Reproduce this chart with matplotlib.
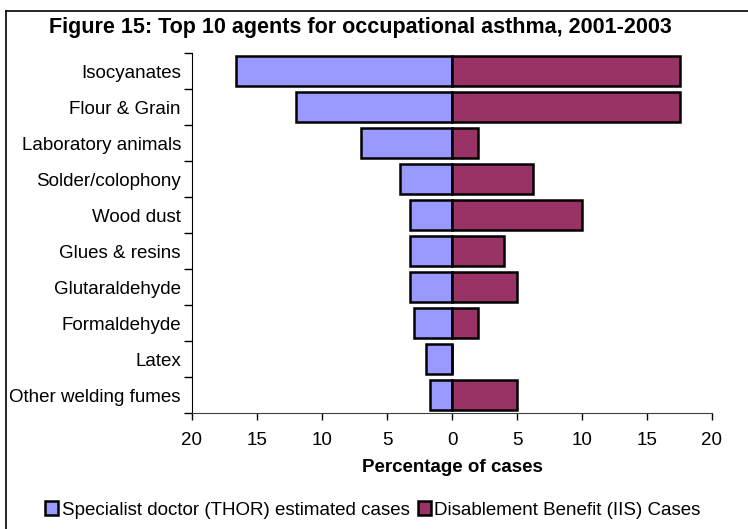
import matplotlib
matplotlib.use('Agg')
import matplotlib.pyplot as plt
import numpy as np
from matplotlib.lines import Line2D

plt.rcParams['font.family'] = ['Liberation Sans', 'DejaVu Sans']

# data
agents = ['Isocyanates', 'Flour & Grain', 'Laboratory animals', 'Solder/colophony',
          'Wood dust', 'Glues & resins', 'Glutaraldehyde', 'Formaldehyde',
          'Latex', 'Other welding fumes']
thor = [16.6, 12.0, 7.0, 4.0, 3.2, 3.2, 3.2, 2.9, 2.0, 1.7]
iis = [17.5, 17.5, 2.0, 6.2, 10.0, 4.0, 5.0, 2.0, 0.0, 5.0]
xticks = [-20, -15, -10, -5, 0, 5, 10, 15, 20]
xticklabels = ['20', '15', '10', '5', '0', '5', '10', '15', '20']

blue = '#9999FF'
maroon = '#993366'

fig = plt.figure(figsize=(7.48, 5.29), dpi=100)
ax = fig.add_axes([192/748, 1 - 413/529, 520/748, 360/529])

y = np.arange(len(agents))
ax.barh(y, [-v for v in thor], height=0.83, color=blue, edgecolor='black', linewidth=1.8,
        label='Specialist doctor (THOR) estimated cases')
ax.barh(y, iis, height=0.83, color=maroon, edgecolor='black', linewidth=1.8,
        label='Disablement Benefit (IIS) Cases')

ax.set_xlim(-20, 20)
ax.set_ylim(len(agents) - 0.5, -0.5)

# category labels at centres, tick marks on the boundaries
ax.set_yticks(np.arange(-0.5, len(agents), 1))
ax.set_yticklabels([])
ax.set_yticks(y, minor=True)
ax.set_yticklabels(agents, minor=True, fontsize=13.5)
ax.tick_params(axis='y', which='major', length=6, width=1, direction='out')
ax.tick_params(axis='y', which='minor', length=0, pad=8)

ax.set_xticks(xticks)
ax.set_xticklabels(xticklabels, fontsize=13.5)
ax.tick_params(axis='x', length=5, width=1, direction='out', pad=9)

ax.spines['top'].set_visible(False)
ax.spines['right'].set_visible(False)
ax.spines['left'].set_color('black')
ax.spines['bottom'].set_color('#404040')

ax.set_xlabel('Percentage of cases', fontsize=13.5, fontweight='bold', labelpad=7)
fig.text(360/748, 1 - 28/529, 'Figure 15: Top 10 agents for occupational asthma, 2001-2003',
         ha='center', va='center', fontsize=15.5, fontweight='bold')

fig.legend(loc='center', bbox_to_anchor=(373/748, 1 - 510/529), ncol=2, frameon=False,
           fontsize=13.5, handlelength=0.7, handleheight=0.7, handletextpad=0.2,
           columnspacing=0.4)

# outer chart frame
fig.add_artist(Line2D([6/748, 6/748], [0, 1 - 11/529], color='black', lw=1.2))
fig.add_artist(Line2D([6/748, 1], [1 - 11/529, 1 - 11/529], color='black', lw=1.2))

fig.savefig('out.png', dpi=100)
